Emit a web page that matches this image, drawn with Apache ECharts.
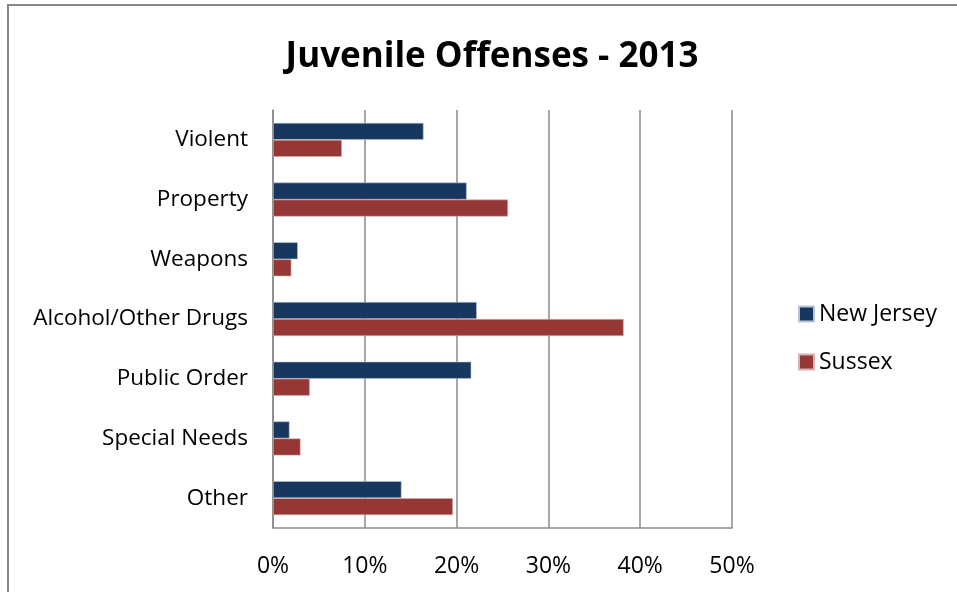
<!DOCTYPE html>
<html><head><meta charset="utf-8">
<script src="https://cdn.jsdelivr.net/npm/echarts@6/dist/echarts.min.js"></script>
<style>html,body{margin:0;padding:0;background:#fff}#c{width:957px;height:592px}</style>
</head><body><div id="c"></div>
<script>
const categories = ["Violent","Property","Weapons","Alcohol/Other Drugs","Public Order","Special Needs","Other"];
const newJersey = [0.164,0.211,0.027,0.222,0.216,0.018,0.140];
const sussex = [0.075,0.256,0.020,0.382,0.040,0.030,0.196];
const tickLabels = ["0%","10%","20%","30%","40%","50%"];

const chart = echarts.init(document.getElementById('c'), null, {renderer:'canvas'});
const font = "'Open Sans', 'Noto Sans', sans-serif";
chart.setOption({
  animation:false,
  backgroundColor:'#fff',
  graphic:[{type:'rect',shape:{x:8,y:5,width:1000,height:700},style:{fill:'none',stroke:'#868686',lineWidth:2},silent:true}],
  title:{text:'Juvenile Offenses - 2013',left:487,textAlign:'center',top:35,
    textStyle:{fontFamily:font,fontWeight:'bold',fontSize:35,color:'#000'}},
  legend:{orient:'vertical',left:798,top:302,padding:0,itemWidth:15,itemHeight:15,itemGap:24,icon:'rect',
    textStyle:{fontFamily:font,fontSize:23,lineHeight:24,color:'#000'},
    data:['New Jersey','Sussex']},
  grid:{left:273,right:225,top:110,bottom:64,containLabel:false},
  xAxis:{type:'value',min:0,max:0.5,interval:0.1,
    axisLine:{show:true,lineStyle:{color:'#8a8a8a',width:1.5}},
    axisTick:{show:false},
    splitLine:{show:true,lineStyle:{color:'#8a8a8a',width:1.5}},
    axisLabel:{margin:27,fontFamily:font,fontSize:23,color:'#000',
      formatter:(v)=>tickLabels[Math.round(v*10)]}},
  yAxis:{type:'category',data:categories,inverse:true,
    axisLine:{show:true,lineStyle:{color:'#8a8a8a',width:1.5}},
    axisTick:{show:false},
    axisLabel:{margin:25,fontFamily:font,fontSize:22.5,color:'#000',padding:[5,0,0,0]}},
  series:[
    {name:'New Jersey',type:'bar',data:newJersey,barWidth:17,barGap:'0%',
      itemStyle:{color:'#17375E',borderColor:'#b8c4d6',borderWidth:0.6}},
    {name:'Sussex',type:'bar',data:sussex,barWidth:17,barGap:'0%',
      itemStyle:{color:'#953735',borderColor:'#d6b2b1',borderWidth:0.6}}
  ]
});
</script></body></html>
